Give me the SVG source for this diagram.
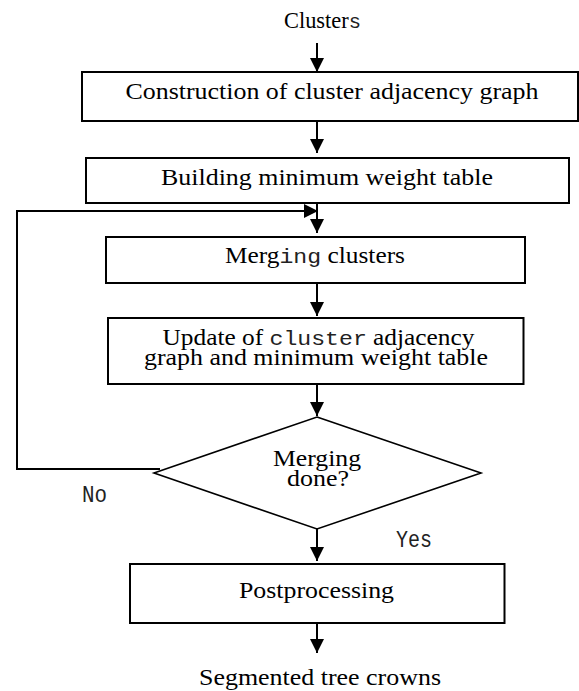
<svg xmlns="http://www.w3.org/2000/svg" width="579" height="691" viewBox="0 0 579 691">
<style>
  .box { fill: #fff; stroke: #000; stroke-width: 2; }
  .dia { fill: #fff; stroke: #000; stroke-width: 1.6; }
  .con { fill: none; stroke: #000; stroke-width: 2; }
  .t { font-family: "Liberation Serif", "Times New Roman", serif; font-size: 23px; fill: #000; }
  .m { font-family: "Liberation Mono", "Courier New", monospace; font-size: 21px; fill: #222; }
  .lbl { font-family: "Liberation Mono", "Courier New", monospace; font-size: 23px; fill: #222; }
</style>
<defs>
  <marker id="ah" markerUnits="userSpaceOnUse" markerWidth="15" markerHeight="15" refX="14" refY="7" orient="auto">
    <path d="M0,0 L14,7 L0,14 Z" fill="#000"/>
  </marker>
</defs>
<rect width="579" height="691" fill="#fff"/>

<g id="connectors">
  <path class="con" d="M317,43 V72" marker-end="url(#ah)"/>
  <path class="con" d="M317,121 V153" marker-end="url(#ah)"/>
  <path class="con" d="M317,203 V233" marker-end="url(#ah)"/>
  <path class="con" d="M317,283 V316" marker-end="url(#ah)"/>
  <path class="con" d="M317,384 V416" marker-end="url(#ah)"/>
  <path class="con" d="M160,469 H17 V211 H318" marker-end="url(#ah)"/>
  <path class="con" d="M317,529 V561" marker-end="url(#ah)"/>
  <path class="con" d="M317,623 V653" marker-end="url(#ah)"/>
</g>

<g id="start">
  <text class="t" x="284" y="28" textLength="77" lengthAdjust="spacingAndGlyphs">Cluster<tspan class="m">s</tspan></text>
</g>

<g id="construction">
  <rect class="box" x="82" y="72" width="496" height="49"/>
  <text class="t" x="125.5" y="99" textLength="413" lengthAdjust="spacingAndGlyphs">Construction of cluster adjacency graph</text>
</g>

<g id="building">
  <rect class="box" x="86" y="158" width="483" height="45"/>
  <text class="t" x="161" y="185" textLength="332" lengthAdjust="spacingAndGlyphs">Building minimum weight table</text>
</g>

<g id="merging">
  <rect class="box" x="106" y="237" width="419" height="46"/>
  <text class="t" x="225" y="263" textLength="180" lengthAdjust="spacingAndGlyphs">Merg<tspan class="m">ing</tspan> clusters</text>
</g>

<g id="update">
  <rect class="box" x="108" y="318" width="415.5" height="66"/>
  <text class="t" x="162.5" y="345" textLength="312" lengthAdjust="spacingAndGlyphs">Update of <tspan class="m">cluster</tspan> adjacency</text>
  <text class="t" x="144" y="365" textLength="344" lengthAdjust="spacingAndGlyphs">graph and minimum weight table</text>
</g>

<g id="decision">
  <polygon class="dia" points="317,417 481,473 317,529 154,473"/>
  <text class="t" x="273" y="466" textLength="88" lengthAdjust="spacingAndGlyphs">Merging</text>
  <text class="t" x="287" y="486" textLength="62" lengthAdjust="spacingAndGlyphs">done?</text>
</g>

<g id="labels">
  <text class="lbl" x="82" y="502" textLength="25" lengthAdjust="spacingAndGlyphs">No</text>
  <text class="lbl" x="396" y="547" textLength="36" lengthAdjust="spacingAndGlyphs">Yes</text>
</g>

<g id="postprocessing">
  <rect class="box" x="130" y="564" width="374.5" height="59"/>
  <text class="t" x="239" y="598" textLength="155" lengthAdjust="spacingAndGlyphs">Postprocessing</text>
</g>

<g id="end">
  <text class="t" x="199" y="685" textLength="242" lengthAdjust="spacingAndGlyphs">Segmented tree crowns</text>
</g>
</svg>
